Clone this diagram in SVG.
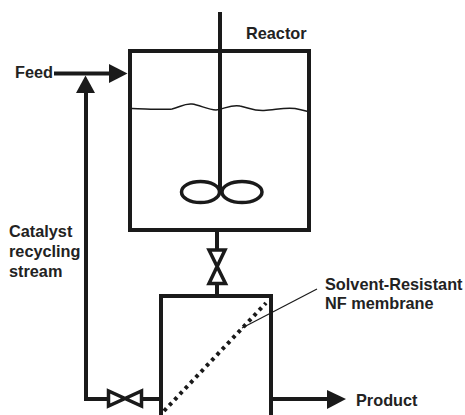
<svg xmlns="http://www.w3.org/2000/svg" width="465" height="415" viewBox="0 0 465 415">
<style>
.l{fill:none;stroke:#1a1a1a;stroke-width:4}
.a{fill:#1a1a1a;stroke:none}
.t{font-family:"Liberation Sans",Arial,sans-serif;font-weight:bold;font-size:16.300px;fill:#222}
</style>
<rect width="465" height="415" fill="#fff"/>
<g id="reactor">
<rect class="l" x="130" y="51" width="179" height="179"/>
<path d="M132 108.500C150 109 165 110 172 109C180 107 185 103 192 104C200 105 208 110 216 110C224 109 232 104 240 106C250 108 253 111 264 110.500C275 110 285 107 295 108.500C300 109.500 304 110.500 308 111.500" fill="none" stroke="#1a1a1a" stroke-width="1.500"/>
<text class="t" x="246" y="39">Reactor</text>
</g>
<g id="agitator">
<path class="l" d="M220 12V190"/>
<ellipse cx="200.500" cy="192" rx="19" ry="10.500" fill="none" stroke="#1a1a1a" stroke-width="3.500"/>
<ellipse cx="242" cy="192" rx="20" ry="10.500" fill="none" stroke="#1a1a1a" stroke-width="3.500"/>
</g>
<g id="membrane-unit">
<path class="l" d="M161 415V296H271V415"/>
<path d="M164 411L266 303" fill="none" stroke="#1a1a1a" stroke-width="4" stroke-dasharray="3.500 4.200"/>
<path d="M242 328L317 289" fill="none" stroke="#1a1a1a" stroke-width="1.200"/>
<text class="t" x="325" y="290">Solvent-Resistant</text>
<text class="t" x="325" y="309">NF membrane</text>
</g>
<g id="valve-top">
<path d="M209 250H225L209 283.500H225.500Z" fill="none" stroke="#1a1a1a" stroke-width="3.500"/>
</g>
<g id="valve-bottom">
<path d="M108.500 391V406L141.500 391V406Z" fill="none" stroke="#1a1a1a" stroke-width="3.500"/>
</g>
<g id="connectors">
<path class="l" d="M54 73.500H110"/>
<polygon class="a" points="109,64 127.500,73.500 109,83"/>
<path class="l" d="M86 90V399H108"/>
<polygon class="a" points="85.500,75.500 95,93 76,93"/>
<path class="l" d="M142 399H161"/>
<path class="l" d="M217 230V250"/>
<path class="l" d="M217 283V296"/>
<path class="l" d="M271 399H329"/>
<polygon class="a" points="327,390 346,399 327,409"/>
</g>
<g id="labels">
<text class="t" x="15" y="78">Feed</text>
<text class="t" x="9" y="237">Catalyst</text>
<text class="t" x="9" y="257">recycling</text>
<text class="t" x="9" y="277">stream</text>
<text class="t" x="356" y="406">Product</text>
</g>
</svg>
